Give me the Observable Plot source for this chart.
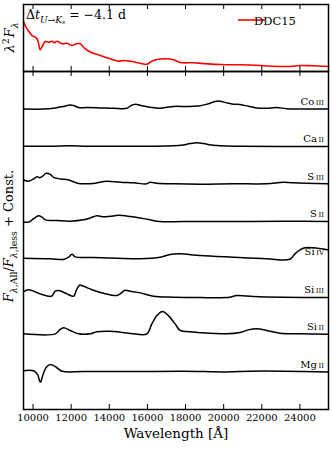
<!DOCTYPE html>
<html><head><meta charset="utf-8">
<script src="https://cdn.jsdelivr.net/npm/d3@7"></script>
<script src="https://cdn.jsdelivr.net/npm/@observablehq/plot@0.6"></script>
<style>
body{margin:0;background:#fff}
#wrap{position:relative;width:332px;height:450px;overflow:hidden}
#wrap svg{position:absolute;left:0}
#wrap text{font-family:"DejaVu Serif", serif}
</style></head><body><div id="wrap"></div>
<script>
// ---- data ----
const xTicks = [10000, 12000, 14000, 16000, 18000, 20000, 22000, 24000];
const xDomain = [9500, 25500];

// top panel: lambda^2 F_lambda (DDC15), arbitrary units
const ddcWave = [9500,9686,9948,10120,10240,10382,10503,10644,10817,10995,11115,11257,11519,11780,12042,12268,12477,12739,13090,13524,14048,14483,14745,15185,15620,15970,16232,16578,16929,17363,17715,18411,19112,19809,20856,21904,22951,23475,23999,24695,25500];
const ddcFlux = [0.736,0.637,0.537,0.512,0.473,0.324,0.388,0.448,0.437,0.452,0.428,0.452,0.413,0.422,0.388,0.413,0.413,0.339,0.279,0.239,0.190,0.154,0.164,0.149,0.124,0.109,0.154,0.184,0.190,0.175,0.134,0.130,0.115,0.104,0.100,0.090,0.075,0.075,0.090,0.085,0.075];
const legendLabel = "DDC15";

// bottom panel: F_all / F_less ratios, [wavelength, ratio]
const ionElements = ["Co", "Ca", "S", "S", "Si", "Si", "Si", "Mg"];
const ionStages   = ["III", "II", "III", "II", "IV", "III", "II", "II"];
const coIII = [[9500,1.0],[10555,1.0],[11168,1.03],[11602,1.07],[11953,1.11],[12163,1.09],[12388,1.04],[12828,1.04],[13524,1.03],[14221,1.02],[14922,1.02],[15132,1.09],[15357,1.13],[15709,1.09],[16143,1.05],[16578,1.02],[17017,1.05],[17363,1.07],[18065,1.07],[18761,1.085],[19196,1.14],[19547,1.20],[19809,1.21],[20160,1.165],[20506,1.13],[20856,1.12],[21291,1.075],[21731,1.03],[22255,1.02],[22778,1.04],[23302,1.01],[23999,1.0],[25500,1.0]];
const caII = [[9500,1.01],[10906,1.01],[11953,1.02],[12828,1.01],[14399,1.01],[16143,1.01],[17363,1.02],[17887,1.045],[18238,1.08],[18589,1.10],[18934,1.08],[19458,1.035],[19809,1.02],[20856,1.01],[25500,1.0]];
const sIII = [[9500,1.11],[9770,1.08],[10031,1.14],[10209,1.20],[10346,1.17],[10471,1.20],[10697,1.29],[10906,1.26],[11079,1.18],[11430,1.14],[11864,1.11],[12388,1.02],[13174,1.02],[13875,1.08],[14572,1.05],[15268,1.035],[15970,1.01],[16143,1.05],[16494,1.025],[17363,1.01],[18761,1.0],[20506,1.01],[22255,1.01],[23124,1.05],[23648,1.035],[25500,1.01]];
const sII = [[9500,0.99],[9770,0.99],[10031,1.08],[10293,1.16],[10471,1.12],[10644,1.05],[11257,1.03],[11953,1.015],[12650,1.05],[13001,1.10],[13352,1.16],[13697,1.13],[14048,1.145],[14483,1.17],[15096,1.14],[15620,1.10],[16054,1.06],[16667,1.005],[17887,1.005],[20506,1.005],[23124,1.015],[25500,1.005]];
const siIV = [[9500,1.03],[10906,1.015],[11602,0.995],[11864,1.055],[12042,1.135],[12215,1.065],[13174,1.05],[14399,1.03],[15620,1.015],[16667,1.055],[17190,1.13],[17715,1.145],[18761,1.10],[20506,1.055],[22255,1.015],[23475,1.0],[23737,1.145],[23999,1.25],[24261,1.305],[24695,1.305],[25500,1.25]];
const siIII = [[9500,1.14],[9770,1.19],[10031,1.15],[10471,1.06],[10906,1.01],[10995,1.025],[11168,1.15],[11341,1.17],[11780,1.08],[12126,1.015],[12268,1.17],[12440,1.31],[12650,1.28],[13090,1.19],[13697,1.095],[14399,1.035],[14572,1.08],[14834,1.175],[15096,1.15],[15620,1.105],[16316,1.015],[17363,0.99],[18761,0.98],[20333,0.99],[20684,1.035],[21553,1.01],[23124,0.99],[25500,0.98]];
const siII = [[9500,1.015],[11168,1.015],[11393,1.12],[11602,1.175],[11953,1.105],[12388,1.015],[13001,1.015],[13352,1.07],[14048,1.085],[14572,1.06],[15268,1.015],[15970,1.015],[16232,1.28],[16494,1.50],[16787,1.61],[17101,1.50],[17452,1.28],[17715,1.105],[18065,1.075],[18761,1.045],[20160,1.015],[20856,1.05],[21291,1.12],[21731,1.15],[22255,1.105],[22951,1.03],[23999,1.015],[25500,1.005]];
const mgII = [[9500,1.035],[10031,1.03],[10241,0.93],[10382,0.725],[10524,0.93],[10697,1.125],[10906,1.195],[11168,1.145],[11519,1.02],[12650,1.01],[15268,1.01],[17887,1.02],[20160,1.0],[21380,1.02],[23124,1.02],[25500,1.0]];
const ionSeries = [coIII, caII, sIII, sII, siIV, siIII, siII, mgII];

// ---- build tables ----
const ddc = ddcWave.map((w, i) => ({wave: w, flux: ddcFlux[i]}));
const nIon = ionSeries.length;
const rows = ionSeries.flatMap((s, i) => s.map(([w, r]) => ({ion: ionElements[i] + ionStages[i], wave: w, value: r + (nIon - 1 - i)})));

const FONT = "DejaVu Serif";
const W = 332, ML = 23, MR = 4;
const topH = 72, topMT = 4, topMB = 1;
const botH = 379, botMT = 0, botMB = 41;
const topInner = topH - topMT - topMB;
const botInner = botH - botMT - botMB;
const TICK = 5;

const topPlot = Plot.plot({
  width: W, height: topH, marginTop: topMT, marginBottom: topMB, marginLeft: ML, marginRight: MR,
  style: {fontFamily: FONT, background: "transparent", overflow: "visible"},
  x: {domain: xDomain, axis: null},
  y: {domain: [0, 1], axis: null},
  marks: [
    Plot.line(ddc, {x: "wave", y: "flux", stroke: "#ff0000", strokeWidth: 1.6, curve: "catmull-rom"}),
    Plot.ruleX(xTicks, {stroke: "black", strokeWidth: 1, insetBottom: topInner - TICK}),
    Plot.ruleX(xTicks, {stroke: "black", strokeWidth: 1, insetTop: topInner - TICK}),
    Plot.frame({stroke: "black", strokeWidth: 1.5})
  ]
});

const botPlot = Plot.plot({
  width: W, height: botH, marginTop: botMT, marginBottom: botMB, marginLeft: ML, marginRight: MR,
  style: {fontFamily: FONT, background: "transparent", overflow: "visible", color: "black"},
  x: {domain: xDomain},
  y: {domain: [0, nIon + 1], axis: null},
  marks: [
    Plot.line(rows, {x: "wave", y: "value", z: "ion", stroke: "black", strokeWidth: 1.5, curve: "catmull-rom"}),
    Plot.ruleX(xTicks, {stroke: "black", strokeWidth: 1, insetBottom: botInner - TICK}),
    Plot.ruleX(xTicks, {stroke: "black", strokeWidth: 1, insetTop: botInner - TICK}),
    Plot.axisX({ticks: xTicks, tickSize: 0, tickPadding: 4, fontSize: 10, label: null, tickFormat: "d"}),
    Plot.text(["Wavelength [Å]"], {frameAnchor: "bottom", dy: 28, fontSize: 13.5, fill: "black"}),
    Plot.frame({stroke: "black", strokeWidth: 1.5})
  ]
});

const wrap = document.getElementById("wrap");
topPlot.style.top = "0px";
botPlot.style.top = (topH - topMB) + "px";
wrap.appendChild(botPlot);
wrap.appendChild(topPlot);

// rich text helper
function rich(svg, {x, y, size, rotate, anchor}, parts) {
  const t = d3.select(svg).append("text")
    .attr("font-size", size)
    .attr("text-anchor", anchor || "start").attr("fill", "black");
  if (rotate) t.attr("transform", `translate(${x},${y}) rotate(${rotate})`);
  else t.attr("x", x).attr("y", y);
  let cur = 0;
  for (const p of parts) {
    const sh = p.shift || 0, sc = p.scale || 1;
    const ts = t.append("tspan").attr("dy", ((cur - sh) * size).toFixed(2)).attr("font-size", (size * sc).toFixed(2)).text(p.t);
    if (p.it) ts.attr("font-style", "italic");
    if (p.dx) ts.attr("dx", p.dx);
    cur = sh;
  }
  return t;
}

const SUB = -0.28, SS = 0.72;
// top y label
rich(topPlot, {x: 14, y: (topMT + topH - topMB) / 2, size: 13, rotate: -90, anchor: "middle"}, [
  {t: "λ", it: true}, {t: "2", shift: 0.4, scale: SS}, {t: "F", it: true, dx: 1}, {t: "λ", it: true, shift: SUB, scale: SS}
]);
// annotation
rich(topPlot, {x: ML + 3, y: 19, size: 12.5}, [
  {t: "Δ"}, {t: "t", it: true}, {t: "U", it: true, shift: SUB, scale: SS}, {t: "→", shift: SUB, scale: SS},
  {t: "K", it: true, shift: SUB, scale: SS}, {t: "s", it: true, shift: -0.42, scale: 0.5},
  {t: " = −4.1 d", shift: 0}
]);
// legend
{
  const fx = W - MR;
  const g = d3.select(topPlot).append("g");
  g.append("line").attr("x1", fx - 90).attr("x2", fx - 63).attr("y1", 20).attr("y2", 20)
    .attr("stroke", "#ff0000").attr("stroke-width", 1.6);
  g.append("text").attr("x", fx - 53).attr("y", 24.5).attr("font-size", 11.5)
    .attr("fill", "black").text(legendLabel);
}
// bottom y label
rich(botPlot, {x: 13, y: 165, size: 13, rotate: -90, anchor: "middle"}, [
  {t: "F", it: true}, {t: "λ", it: true, shift: SUB, scale: SS}, {t: ",All", shift: SUB, scale: SS},
  {t: "/", shift: 0}, {t: "F", it: true}, {t: "λ", it: true, shift: SUB, scale: SS}, {t: ",less", shift: SUB, scale: SS},
  {t: " + Const.", shift: 0}
]);
// ion labels
{
  const ys = botPlot.scale("y"), xs = botPlot.scale("x");
  const xr = xs.range[1] - 4;
  ionElements.forEach((el, i) => {
    const off = nIon - 1 - i;
    const t = d3.select(botPlot).append("text").attr("x", xr).attr("y", ys.apply(off + 1.1))
      .attr("text-anchor", "end").attr("font-size", 10).attr("fill", "black");
    t.append("tspan").text(el);
    t.append("tspan").attr("font-size", 7).attr("dx", 1.5).text(ionStages[i]);
  });
}
</script></body></html>
